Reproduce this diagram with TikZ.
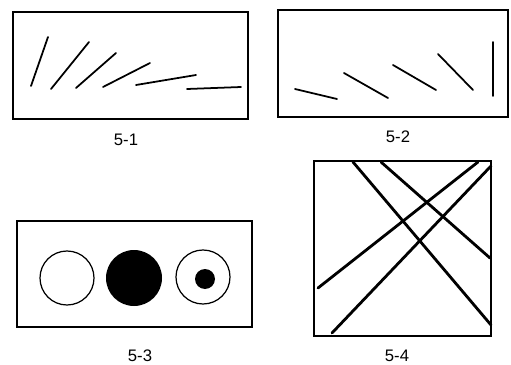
\documentclass[tikz,border=0pt]{standalone}
\usepackage{fontspec}
\setmainfont{Liberation Sans}

\begin{document}
\begin{tikzpicture}[
    x=0.02cm, y=-0.02cm,
    frame/.style={draw, line width=0.75pt},
    stroke/.style={line width=1pt, line cap=round},
    bar/.style={line width=1.6pt, line cap=round},
    disc/.style={draw, line width=0.7pt},
    panellabel/.style={font=\fontsize{9.5}{11}\selectfont, inner sep=0pt},
]
\useasboundingbox (0,0) rectangle (511,365);

% ---- Panel 5-1 -------------------------------------------------------------
\draw[frame] (13,12) rectangle (248,119);
\draw[stroke] (31,86)  -- (48,37);
\draw[stroke] (51,89)  -- (89,42);
\draw[stroke] (76,88)  -- (116,53);
\draw[stroke] (103,87) -- (150,63);
\draw[stroke] (136,85) -- (196,75);
\draw[stroke] (187,89) -- (241,87);
\node[panellabel] (lab1) at (126,140) {5-1};

% ---- Panel 5-2 -------------------------------------------------------------
\draw[frame] (278,10) rectangle (508,117);
\draw[stroke] (295,89) -- (337,99);
\draw[stroke] (344,73) -- (388,98);
\draw[stroke] (393,65) -- (436,90);
\draw[stroke] (438,54) -- (473,90);
\draw[stroke] (493,42) -- (493,96);
\node[panellabel] (lab2) at (398,137) {5-2};

% ---- Panel 5-3 -------------------------------------------------------------
\draw[frame] (17,221) rectangle (252,327);
\draw[disc] (67,278) circle[radius=27];
\fill (134,278) circle[radius=28];
\draw[disc] (203,277) circle[radius=27];
\fill (205,279) circle[radius=10];
\node[panellabel] (lab3) at (140,356) {5-3};

% ---- Panel 5-4 -------------------------------------------------------------
\draw[frame] (314,161) rectangle (491,336);
\draw[bar] (353,162) -- (491,325);
\draw[bar] (381,162) -- (490,258);
\draw[bar] (478,162) -- (318,288);
\draw[bar] (491,166) -- (332,333);
\node[panellabel] (lab4) at (397,356) {5-4};

\end{tikzpicture}
\end{document}
